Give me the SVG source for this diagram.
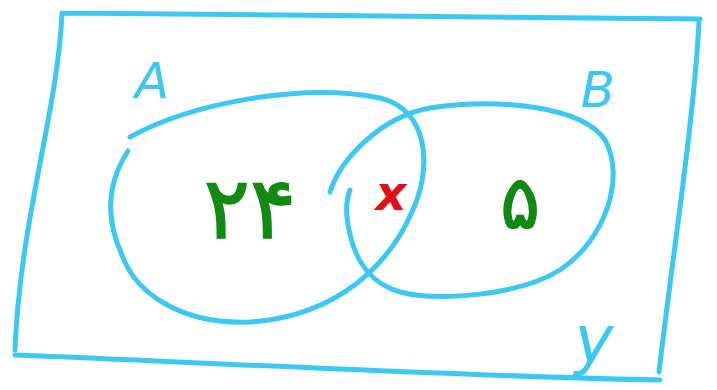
<svg xmlns="http://www.w3.org/2000/svg" width="717" height="390" viewBox="0 0 717 390">
<style>
.ink{fill:none;stroke:#3cc8f4;stroke-width:5;stroke-linecap:round;stroke-linejoin:round}
.lbl{font-family:"DejaVu Sans","Liberation Sans",sans-serif;font-style:italic;fill:#3cc8f4}
.num{font-family:"DejaVu Sans","Noto Sans",sans-serif;fill:#108a10;stroke:#108a10;stroke-width:1.5}
</style>
<rect width="717" height="390" fill="#ffffff"/>
<g id="universe">
<path class="ink" d="M62,13 C200,16 450,18 700,19 M699,22 C694,120 672,260 659,372 M15,355 C200,362 450,376 660,380 M62,13 C58,110 20,220 15,350"/>
<text class="lbl" x="594" y="362" font-size="66" text-anchor="middle">y</text>
</g>
<g id="setA">
<path class="ink" d="M130,137 C190,104 300,82 380,98 C430,110 432,170 412,212 C390,262 340,316 250,322 C180,325 135,292 122,255 C106,220 106,185 128,151"/>
<text class="lbl" x="152" y="98" font-size="50" text-anchor="middle">A</text>
<text class="num" x="250" y="238" font-size="86" text-anchor="middle">۲۴</text>
</g>
<g id="setB">
<path class="ink" d="M330,192 C340,160 380,117 430,108 C500,98 582,106 605,140 C626,178 605,240 560,270 C520,295 440,302 400,292 C372,284 356,262 350,234 C345,214 346,200 350,190"/>
<text class="lbl" x="598" y="107" font-size="50" text-anchor="middle">B</text>
<text class="num" x="520" y="228" font-size="74" text-anchor="middle">۵</text>
</g>
<g id="intersection">
<text x="391" y="210" font-family="DejaVu Sans, sans-serif" font-style="italic" font-weight="bold" font-size="48" fill="#e0101a" text-anchor="middle">x</text>
</g>
</svg>
